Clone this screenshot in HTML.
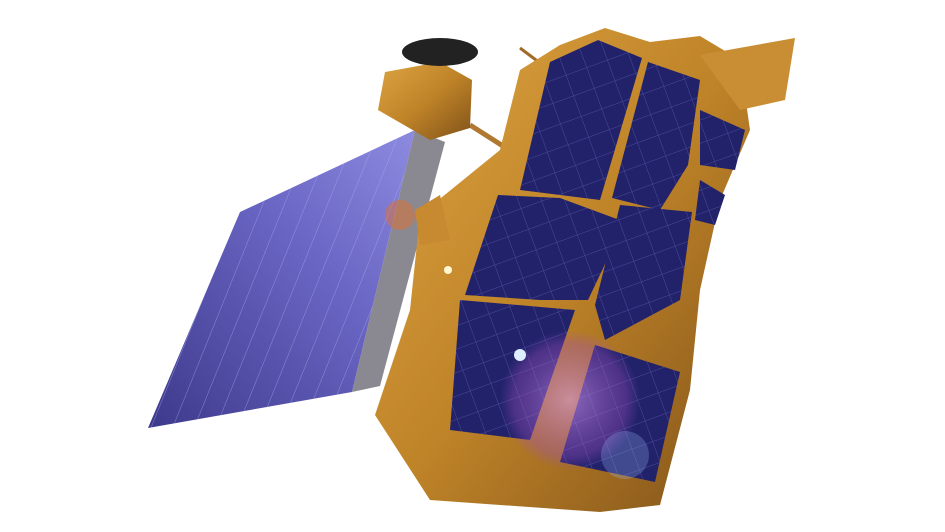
<!DOCTYPE html>
<html><head><meta charset="utf-8"><style>
html,body{margin:0;padding:0;background:#fff;width:945px;height:532px;overflow:hidden}
</style></head><body>
<svg width="945" height="532" viewBox="0 0 945 532">
<defs>
<linearGradient id="panel" x1="0" y1="1" x2="1" y2="0">
<stop offset="0" stop-color="#3d3a8c"/><stop offset="0.6" stop-color="#6a66c4"/><stop offset="1" stop-color="#8d8be0"/></linearGradient>
<linearGradient id="gold" x1="0" y1="0" x2="1" y2="1">
<stop offset="0" stop-color="#dca443"/><stop offset="0.5" stop-color="#c08428"/><stop offset="1" stop-color="#80521a"/></linearGradient>
<radialGradient id="flare"><stop offset="0" stop-color="#e0a0ff" stop-opacity="0.55"/><stop offset="0.8" stop-color="#a050c0" stop-opacity="0.35"/><stop offset="1" stop-color="#a050c0" stop-opacity="0"/></radialGradient>
<pattern id="grid" width="22" height="22" patternUnits="userSpaceOnUse" patternTransform="rotate(-20)">
<rect width="22" height="22" fill="#22226a"/><path d="M0 0H22M0 0V22" stroke="#4a4a9a" stroke-width="1"/></pattern>
<pattern id="stripes" width="20" height="20" patternUnits="userSpaceOnUse" patternTransform="rotate(22)">
<rect width="20" height="20" fill="none"/><path d="M0 0V20" stroke="#b0b0f0" stroke-width="1" opacity="0.6"/></pattern>
</defs>
<g>
<polygon points="148,428 240,212 415,130 352,392" fill="url(#panel)"/>
<polygon points="148,428 240,212 415,130 352,392" fill="url(#stripes)"/>
<polygon points="415,130 445,142 380,386 352,392" fill="#8a8890"/>
</g>
<line x1="405" y1="250" x2="470" y2="235" stroke="#888" stroke-width="1"/>
<line x1="470" y1="125" x2="528" y2="162" stroke="#b07830" stroke-width="5"/>
<line x1="520" y1="48" x2="560" y2="78" stroke="#a06a28" stroke-width="3"/>
<g>
<polygon points="385,72 440,62 472,80 470,128 430,140 378,110" fill="url(#gold)"/>
<ellipse cx="440" cy="52" rx="38" ry="14" fill="#222"/>
</g>
<g>
<polygon points="560,45 605,28 650,42 700,36 740,60 750,130 720,200 700,290 690,390 660,505 600,512 430,500 375,415 410,310 420,215 500,150 520,70" fill="url(#gold)"/>
<polygon points="700,55 795,38 785,100 740,110" fill="#c98e34"/>
<polygon points="415,210 440,195 450,240 420,245" fill="#c88a30"/>
</g>
<g>
<polygon points="550,62 598,40 642,58 600,200 560,195 520,190" fill="url(#grid)"/>
<polygon points="498,195 560,198 625,222 588,300 540,300 465,295" fill="url(#grid)"/>
<polygon points="460,300 575,310 530,440 450,430" fill="url(#grid)"/>
<polygon points="648,62 700,80 688,165 660,210 612,198" fill="url(#grid)"/>
<polygon points="620,205 692,212 680,300 605,340 595,305" fill="url(#grid)"/>
<polygon points="595,345 680,372 655,482 560,462" fill="url(#grid)"/>
<polygon points="700,110 745,130 735,170 700,165" fill="url(#grid)"/>
<polygon points="700,180 725,195 715,225 695,220" fill="url(#grid)"/>
</g>
<circle cx="570" cy="400" r="70" fill="url(#flare)"/>
<circle cx="520" cy="355" r="6" fill="#ddeeff"/>
<circle cx="448" cy="270" r="4" fill="#fff8d0"/>
<circle cx="625" cy="455" r="24" fill="#a0c0ff" opacity="0.25"/>
<circle cx="400" cy="215" r="15" fill="#e07030" opacity="0.5"/>
</svg>
</body></html>
